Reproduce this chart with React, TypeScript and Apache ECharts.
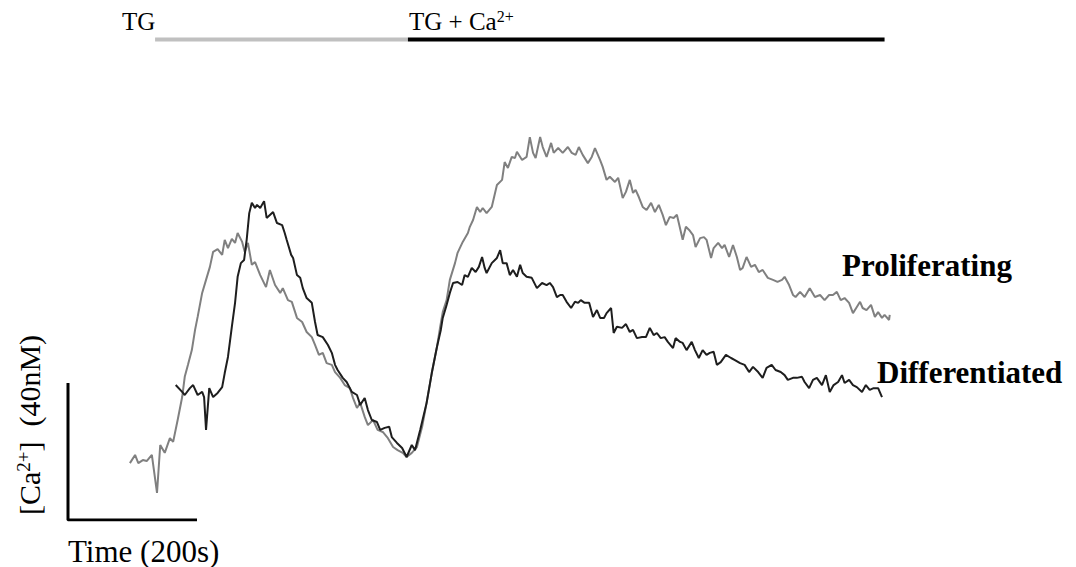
import React, { useEffect, useRef } from "react";
import * as echarts from "echarts";

// Proliferating cells: time (s) and [Ca2+] (nM)
const prolifTime = [96,104,109,116,122,130,138,143,150,158,163,170,177,181,186,192,197,201,208,214,220,225,232,239,243,248,254,259,263,270,274,279,285,290,298,307,313,321,329,333,341,347,355,363,370,378,383,389,395,401,409,414,422,429,437,442,448,453,460,465,473,480,488,496,504,511,519,525,533,541,549,556,564,572,577,581,587,592,600,604,612,620,623,628,634,639,643,649,657,665,673,677,682,688,693,696,704,711,716,721,725,732,736,742,749,753,760,767,775,781,787,792,798,806,812,817,825,829,835,840,848,853,860,865,871,876,880,885,891,897,904,910,916,922,927,933,939,944,947,953,958,963,969,973,980,986,990,997,1001,1008,1014,1018,1025,1031,1037,1042,1046,1052,1059,1065,1071,1077,1085,1093,1100,1107,1111,1118,1124,1128,1135,1142,1150,1158,1166,1173,1180,1186,1192,1198,1204,1211,1217,1223,1228,1232,1238,1245,1251,1256,1262,1266,1273,1274];
const prolifCa = [16.6,19.0,16.6,17.5,17.2,19.0,7.9,21.9,19.6,23.9,22.8,29.2,35.9,41.8,45.3,49.6,55.5,59.3,66.3,70.1,73.9,78.3,79.1,77.4,81.8,79.4,82.1,80.9,83.8,81.2,78.3,80.9,74.5,75.3,71.5,68.0,73.0,68.6,66.3,67.7,64.2,63.7,59.0,57.8,54.9,53.4,51.1,48.2,48.8,45.8,45.3,43.2,41.5,39.4,38.5,35.6,32.7,34.2,30.1,27.7,29.2,26.3,25.7,23.9,21.3,20.4,19.6,18.4,19.6,21.3,27.2,34.2,42.9,50.5,56.4,60.7,64.2,70.1,75.0,78.0,81.2,83.8,85.6,87.6,91.4,89.9,91.1,89.6,91.4,97.8,99.3,104.5,102.8,106.0,105.7,107.5,105.1,106.0,111.8,107.2,105.7,111.8,108.9,106.0,110.1,107.2,108.6,107.2,108.9,107.2,106.6,108.9,106.6,104.2,106.0,108.6,105.1,103.1,99.3,100.2,98.7,99.9,94.0,95.8,99.3,95.5,96.4,94.3,91.4,90.5,92.6,89.9,92.0,89.1,86.1,88.5,88.2,89.1,86.7,81.8,85.6,84.7,83.2,79.7,82.3,82.6,81.8,76.5,79.4,80.9,79.4,80.3,76.8,80.3,76.8,73.0,73.6,76.8,73.9,74.5,72.4,73.0,70.7,70.1,69.5,70.1,71.0,68.6,65.7,65.1,66.6,65.1,67.7,65.1,65.7,64.2,65.7,65.7,66.6,64.2,64.8,63.4,60.4,62.2,63.7,61.9,61.3,62.8,59.3,60.7,59.0,59.9,58.4,59.9];

// Differentiated cells: time (s) and [Ca2+] (nM)
const diffTime = [167,177,181,189,194,201,208,211,214,219,225,232,239,243,248,254,259,263,268,273,277,281,285,290,293,298,304,308,318,324,332,336,339,346,349,355,360,364,370,378,383,387,395,403,409,414,418,426,432,440,448,453,460,465,471,479,484,491,498,502,510,518,525,533,538,546,556,564,572,578,581,587,592,597,604,611,615,620,626,632,637,642,646,649,657,665,670,674,680,685,690,696,701,705,711,719,727,735,742,747,752,758,763,767,773,780,786,791,795,801,808,814,820,825,831,835,842,846,851,859,865,871,876,882,890,896,902,908,913,919,925,930,938,942,949,953,959,967,972,978,984,990,995,1001,1006,1012,1020,1028,1034,1042,1049,1056,1062,1070,1077,1083,1091,1097,1105,1111,1116,1124,1130,1138,1142,1149,1155,1161,1169,1175,1181,1187,1194,1200,1204,1211,1217,1223,1231,1237,1243,1249,1256,1262];
const diffCa = [39.4,37.4,36.5,38.5,39.4,36.5,37.4,35.9,26.3,38.5,35.9,37.1,38.8,42.9,47.6,56.4,63.4,71.0,75.0,75.9,81.8,89.6,92.6,91.1,92.0,91.1,93.1,88.2,89.9,86.7,86.1,83.8,81.8,77.4,76.5,71.5,70.7,67.7,64.8,63.4,57.8,54.0,53.4,51.1,48.8,45.3,43.8,41.5,40.3,37.4,36.5,33.6,35.6,32.1,29.2,28.6,26.3,26.9,27.2,24.2,22.5,21.0,18.4,21.9,20.4,26.3,34.2,42.9,50.5,55.5,59.0,62.8,66.3,69.2,69.5,68.6,71.5,71.0,73.6,72.4,73.9,76.8,73.6,72.1,75.0,76.5,78.8,75.0,75.0,71.5,73.0,71.0,74.5,72.1,71.0,70.7,67.7,69.2,68.6,69.2,68.0,65.1,65.7,65.7,63.7,61.9,63.7,63.4,64.2,63.4,63.4,59.3,61.3,59.0,59.0,60.4,61.9,54.6,56.4,56.1,57.2,54.9,55.5,53.1,53.4,53.4,56.1,54.0,54.6,53.1,53.4,52.0,50.2,53.1,52.0,51.7,49.6,52.0,49.6,47.3,49.6,48.2,48.8,49.1,45.3,46.1,48.2,47.3,46.7,45.8,45.3,43.2,44.7,43.2,41.5,44.4,45.3,43.8,43.2,42.3,40.9,41.5,41.5,41.8,40.3,38.5,40.9,41.5,39.4,42.3,37.4,39.4,40.3,42.3,40.0,40.9,39.4,38.8,37.4,39.4,38.0,38.5,38.5,35.9];

// Scale bar: 200 s horizontally, 40 nM vertically
const scaleBarTime = [200, 0, 0];
const scaleBarCa = [0, 0, 40];

// Treatment periods (s): TG start, TG + Ca2+ start, end
const treatmentTimes = [135, 527, 1266];
const treatmentLabels = ["TG", "TG + Ca", "2+"];

const seriesNames = ["Proliferating", "Differentiated"];

const pairs = (t: number[], v: number[]) => t.map((x, i) => [x, v[i]]);

const SERIF = '"Liberation Serif", "Times New Roman", serif';
const BAR_LEVEL = 140.3;

export default function App() {
  const ref = useRef<HTMLDivElement>(null);

  useEffect(() => {
    if (!ref.current) return;
    const chart = echarts.init(ref.current, null, { renderer: "svg" });
    const option: any = {
      animation: false,
      grid: { left: 68, top: 6.25, width: 903, height: 513.75 },
      xAxis: { type: "value", min: 0, max: 1400, show: false },
      yAxis: { type: "value", min: 0, max: 150, show: false },
      series: [
        {
          name: seriesNames[0],
          type: "line",
          data: pairs(prolifTime, prolifCa),
          symbol: "none",
          silent: true,
          lineStyle: { color: "#808080", width: 2 },
          z: 2,
        },
        {
          name: seriesNames[1],
          type: "line",
          data: pairs(diffTime, diffCa),
          symbol: "none",
          silent: true,
          lineStyle: { color: "#1e1e1e", width: 2 },
          z: 3,
        },
        {
          name: "scale",
          type: "line",
          data: pairs(scaleBarTime, scaleBarCa),
          symbol: "none",
          silent: true,
          lineStyle: { color: "#000", width: 3 },
        },
        {
          name: "TG",
          type: "line",
          data: [
            [treatmentTimes[0], BAR_LEVEL],
            [treatmentTimes[1], BAR_LEVEL],
          ],
          symbol: "none",
          silent: true,
          clip: false,
          lineStyle: { color: "#c0c0c0", width: 4 },
        },
        {
          name: "TG+Ca",
          type: "line",
          data: [
            [treatmentTimes[1], BAR_LEVEL],
            [treatmentTimes[2], BAR_LEVEL],
          ],
          symbol: "none",
          silent: true,
          clip: false,
          lineStyle: { color: "#000", width: 4 },
        },
      ],
      graphic: [
        {
          type: "text",
          x: 122,
          y: 21.5,
          silent: true,
          style: {
            text: treatmentLabels[0],
            fontSize: 25,
            fontFamily: SERIF,
            fill: "#000",
            align: "left",
            verticalAlign: "middle",
          },
        },
        {
          type: "text",
          x: 409,
          y: 21.5,
          silent: true,
          style: {
            text: "{m|" + treatmentLabels[1] + "}{s|" + treatmentLabels[2] + "}",
            align: "left",
            verticalAlign: "middle",
            rich: {
              m: { fontSize: 25, fontFamily: SERIF, fill: "#000", lineHeight: 26 },
              s: { fontSize: 16, fontFamily: SERIF, fill: "#000", lineHeight: 16, verticalAlign: "top" },
            },
          },
        },
        {
          type: "text",
          x: 29,
          y: 425,
          rotation: Math.PI / 2,
          silent: true,
          style: {
            text: "{m|[Ca}{s|2+}{m|]  (40nM)}",
            align: "center",
            verticalAlign: "middle",
            rich: {
              m: { fontSize: 30, fontFamily: SERIF, fill: "#000", lineHeight: 31 },
              s: { fontSize: 19, fontFamily: SERIF, fill: "#000", lineHeight: 19, verticalAlign: "top" },
            },
          },
        },
        {
          type: "text",
          x: 68,
          y: 551,
          silent: true,
          style: {
            text: "Time (200s)",
            fontSize: 31,
            fontFamily: SERIF,
            fill: "#000",
            align: "left",
            verticalAlign: "middle",
          },
        },
        {
          type: "text",
          x: 842,
          y: 265.5,
          silent: true,
          style: {
            text: seriesNames[0],
            fontSize: 31,
            fontWeight: "bold",
            fontFamily: SERIF,
            fill: "#000",
            align: "left",
            verticalAlign: "middle",
          },
        },
        {
          type: "text",
          x: 877,
          y: 372,
          silent: true,
          style: {
            text: seriesNames[1],
            fontSize: 31,
            fontWeight: "bold",
            fontFamily: SERIF,
            fill: "#000",
            align: "left",
            verticalAlign: "middle",
          },
        },
      ],
    };
    chart.setOption(option);
    return () => chart.dispose();
  }, []);

  return (
    <div
      ref={ref}
      style={{ position: "absolute", left: 0, top: 0, width: 1076, height: 567, background: "#fff" }}
    />
  );
}
